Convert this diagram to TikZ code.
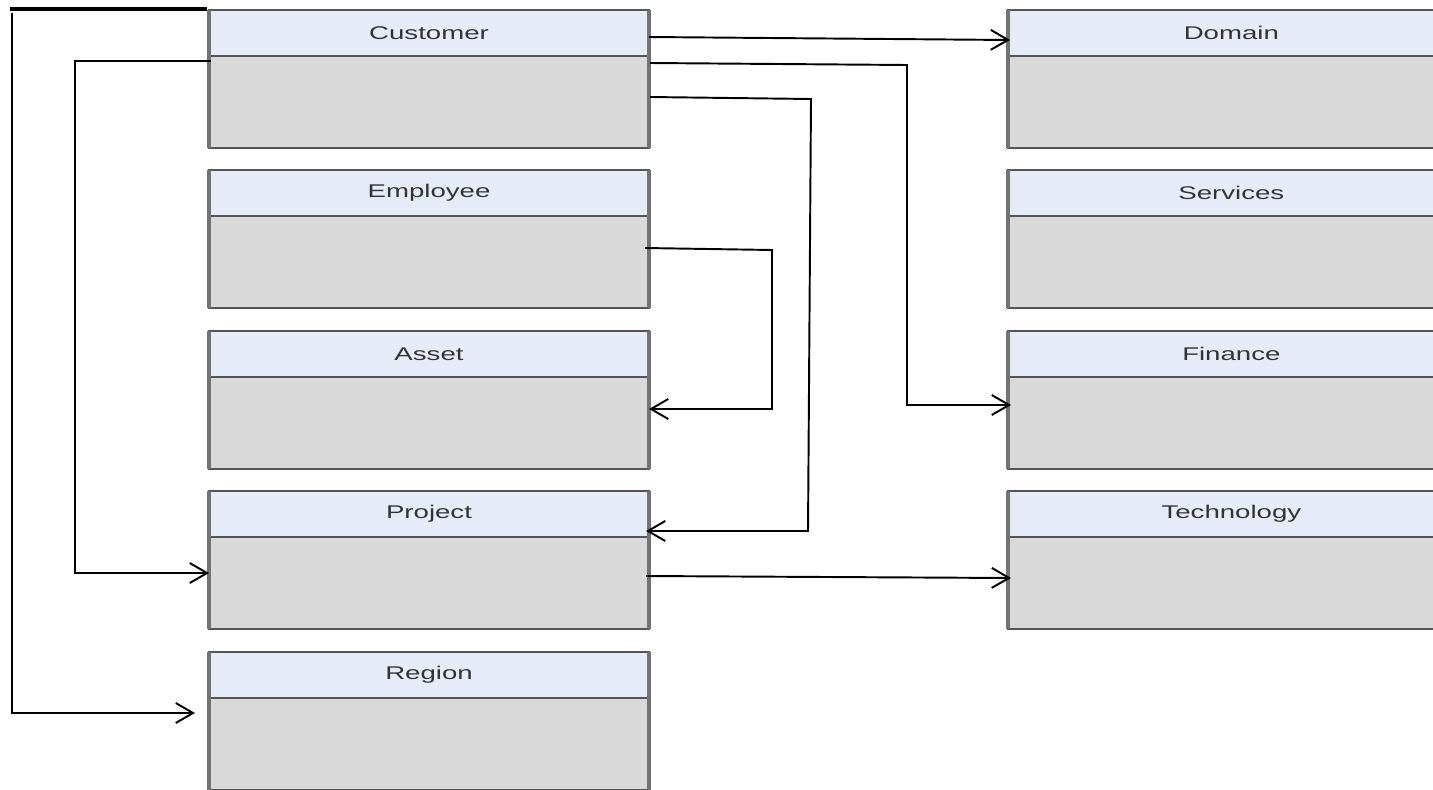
\documentclass[tikz,border=0pt]{standalone}
\usepackage{fontspec}
\newfontfamily\boxfont[FakeStretch=1.5]{Liberation Sans}
\usetikzlibrary{arrows.meta,calc}
\definecolor{hdrfill}{HTML}{E6ECF7}
\definecolor{bodyfill}{HTML}{D9D9D9}
\definecolor{edgecol}{HTML}{555555}
\definecolor{sidecol}{HTML}{737373}
\definecolor{labelcol}{HTML}{333333}

% one class box: header with name, empty body below
\newcommand\umlclass[5]{%
  \node[hdr,minimum width=#4] (#1) at (#2,#3) {#5};
  \node[bodybox,minimum width=#4] (#1b) at (#1.south) {};
  \draw[sideline] (#1.north west) -- (#1b.south west);
  \draw[sideline] (#1.north east) -- (#1b.south east);
}

\begin{document}
\begin{tikzpicture}[x=0.75pt,y=-0.75pt,
  hdr/.style={draw=edgecol,fill=hdrfill,line width=1.1pt,outer sep=0pt,inner sep=0pt,
    minimum height=34.5pt,anchor=north west,text=labelcol,
    font=\boxfont\fontsize{13.8pt}{16pt}\selectfont},
  bodybox/.style={draw=edgecol,fill=bodyfill,line width=1.1pt,outer sep=0pt,inner sep=0pt,
    minimum height=69pt,anchor=north},
  sideline/.style={draw=sidecol,line width=2.4pt},
  conn/.style={draw=black,line width=1.45pt},
  arr/.style={conn,-{Straight Barb[length=13pt,width=15pt,line width=1.45pt]}},
  topbar/.style={draw=black,line width=2.3pt}]
\useasboundingbox (0,0) rectangle (1433,789);
\clip (0,0) rectangle (1433,789);

% left column
\umlclass{cust}{209}{10}{330pt}{Customer}
\umlclass{emp}{209}{170}{330pt}{Employee}
\umlclass{ass}{209}{331}{330pt}{Asset}
\umlclass{proj}{209}{491}{330pt}{Project}
\umlclass{reg}{209}{652}{330pt}{Region}

% right column
\umlclass{dom}{1008}{10}{335pt}{Domain}
\umlclass{serv}{1008}{170}{335pt}{Services}
\umlclass{fin}{1008}{331}{335pt}{Finance}
\umlclass{tech}{1008}{491}{335pt}{Technology}

% Customer -> Region, along the far left
\coordinate (tl) at (10,9);
\draw[topbar] (tl) -- ($(cust.north west)+(-2,-1)$);
\coordinate (a1) at (12,13);
\coordinate (a2) at (12,713);
\coordinate (a3) at (195,713);
\draw[arr] (a1) -- (a2) -- (a3);

% Customer -> Project, left side
\coordinate (b1) at (75,61);
\coordinate (b2) at (75,573);
\draw[arr] ($(custb.north west)+(2,5)$) -- (b1) -- (b2) -- (projb.west |- b2);

% Customer -> Domain
\draw[arr] ($(cust.east)+(0,4)$) -- ($(dom.west)+(2,7)$);

% Customer -> Finance
\coordinate (d1) at (907,65);
\coordinate (d2) at (907,405);
\draw[arr] ($(custb.north east)+(1,7)$) -- (d1) -- (d2) -- ($(finb.west |- d2)+(3,0)$);

% Customer -> Project, right side
\coordinate (e1) at (811,99);
\coordinate (e2) at (808,531);
\draw[arr] ($(custb.north east)+(1,41)$) -- (e1) -- (e2) -- ($(proj.east |- e2)+(-3,0)$);

% Employee -> Asset
\coordinate (f1) at (772,250);
\coordinate (f2) at (772,409);
\draw[arr] ($(empb.north east)+(-4,32)$) -- (f1) -- (f2) -- (assb.east |- f2);

% Project -> Technology
\draw[arr] ($(projb.north east)+(-3,39)$) -- ($(techb.north west)+(3,41)$);
\end{tikzpicture}
\end{document}
